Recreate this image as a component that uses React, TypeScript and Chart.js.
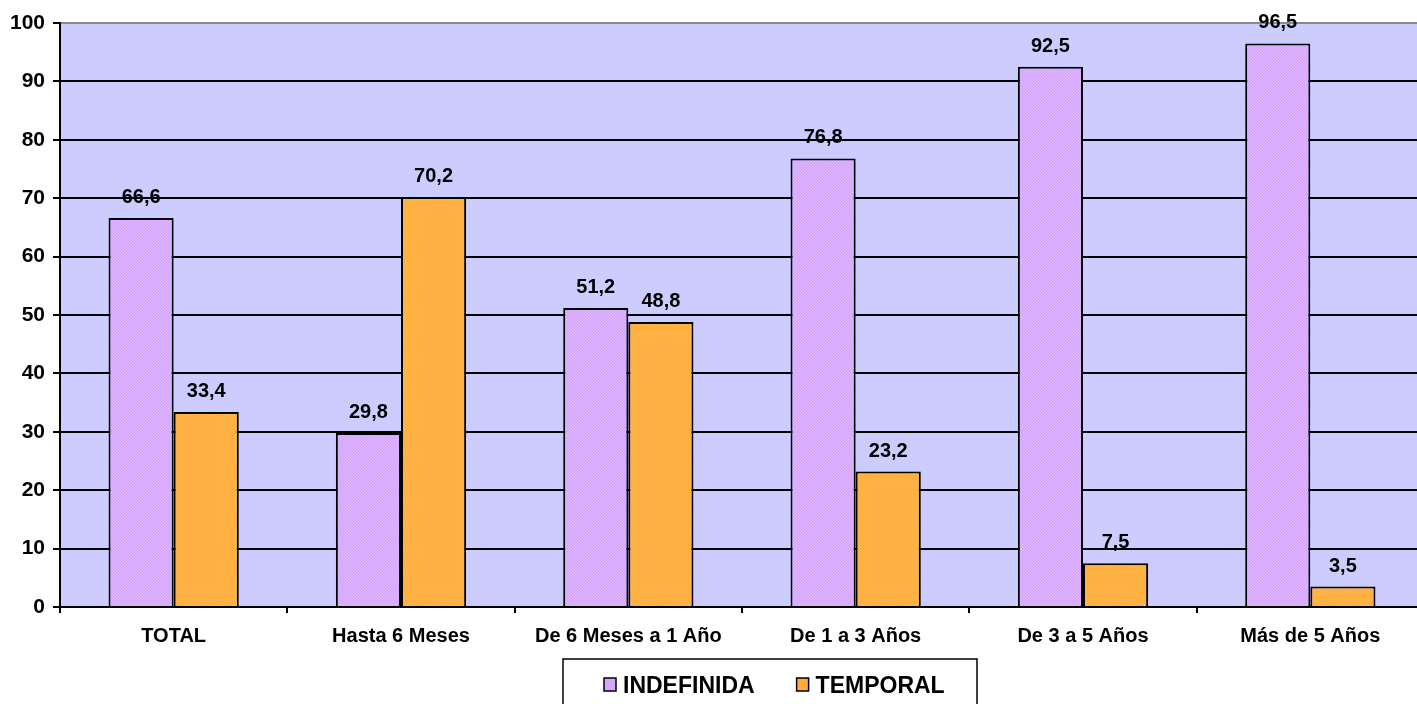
import React, { useEffect, useRef } from "react";
import { Chart, registerables } from "chart.js";

Chart.register(...registerables);

const categories = [
  "TOTAL",
  "Hasta 6 Meses",
  "De 6 Meses a 1 Año",
  "De 1 a 3 Años",
  "De 3 a 5 Años",
  "Más de 5 Años",
];
const indefinida = [66.6, 29.8, 51.2, 76.8, 92.5, 96.5];
const temporal = [33.4, 70.2, 48.8, 23.2, 7.5, 3.5];
const seriesNames = ["INDEFINIDA", "TEMPORAL"];
const yTicks = [0, 10, 20, 30, 40, 50, 60, 70, 80, 90, 100];

const PURPLE = "#D5A6FE";
const PURPLE_DOT = "#E2BCFF";
const ORANGE = "#FFAB36";
const ORANGE_DOT = "#FFBD5C";
const PLOT_BG = "#CCCCFF";
const FONT = "'Liberation Sans', Arial, sans-serif";

function makePattern(base: string, dot: string): CanvasPattern | string {
  const c = document.createElement("canvas");
  c.width = 3;
  c.height = 3;
  const g = c.getContext("2d");
  if (!g) return base;
  g.fillStyle = base;
  g.fillRect(0, 0, 3, 3);
  g.fillStyle = dot;
  g.fillRect(0, 0, 1, 1);
  g.fillRect(2, 1, 1, 1);
  g.fillRect(1, 2, 1, 1);
  const p = g.createPattern(c, "repeat");
  return p || base;
}

const bgPlugin = {
  id: "plotBg",
  beforeDraw(chart: any) {
    const { ctx, chartArea } = chart;
    ctx.save();
    ctx.fillStyle = PLOT_BG;
    ctx.fillRect(chartArea.left, chartArea.top, chartArea.right - chartArea.left, chartArea.bottom - chartArea.top);
    ctx.restore();
  },
};

const labelPlugin = {
  id: "valueLabels",
  afterDatasetsDraw(chart: any) {
    const { ctx } = chart;
    ctx.save();
    ctx.font = `bold 20px ${FONT}`;
    ctx.fillStyle = "#000";
    ctx.textAlign = "center";
    ctx.textBaseline = "alphabetic";
    chart.data.datasets.forEach((ds: any, di: number) => {
      const meta = chart.getDatasetMeta(di);
      meta.data.forEach((bar: any, i: number) => {
        const v = ds.data[i] as number;
        ctx.fillText(v.toFixed(1).replace(".", ","), bar.x, bar.y - 15);
      });
    });
    ctx.restore();
  },
};

const legendPlugin = {
  id: "boxLegend",
  afterDraw(chart: any) {
    const { ctx } = chart;
    ctx.save();
    ctx.strokeStyle = "#000";
    ctx.lineWidth = 1.5;
    ctx.strokeRect(563, 659, 414, 60);
    ctx.font = `bold 23px ${FONT}`;
    ctx.textBaseline = "alphabetic";
    ctx.textAlign = "left";
    const colors = [PURPLE, ORANGE];
    let x = 604;
    seriesNames.forEach((name, i) => {
      ctx.fillStyle = colors[i];
      ctx.fillRect(x, 678, 12, 13);
      ctx.strokeRect(x, 678, 12, 13);
      ctx.fillStyle = "#000";
      ctx.fillText(name, x + 19, 693);
      x += 19 + ctx.measureText(name).width + 42;
    });
    ctx.restore();
  },
};

export default function App() {
  const ref = useRef<HTMLCanvasElement | null>(null);

  useEffect(() => {
    if (!ref.current) return;
    const chart = new Chart(ref.current, {
      type: "bar",
      data: {
        labels: categories,
        datasets: [
          {
            label: seriesNames[0],
            data: indefinida,
            backgroundColor: makePattern(PURPLE, PURPLE_DOT) as any,
            borderColor: "#000",
            borderWidth: 2,
            categoryPercentage: 0.573,
            barPercentage: 1,
          },
          {
            label: seriesNames[1],
            data: temporal,
            backgroundColor: makePattern(ORANGE, ORANGE_DOT) as any,
            borderColor: "#000",
            borderWidth: 2,
            categoryPercentage: 0.573,
            barPercentage: 1,
          },
        ],
      },
      options: {
        animation: false,
        responsive: true,
        maintainAspectRatio: false,
        layout: { padding: { top: 23, left: 0, right: 0, bottom: 0 } },
        plugins: {
          legend: { display: false },
          tooltip: { enabled: false },
        },
        scales: {
          x: {
            afterFit(scale: any) {
              scale.height = 97;
            },
            grid: {
              offset: true,
              drawOnChartArea: false,
              drawTicks: true,
              tickLength: 6,
              color: "#000",
              lineWidth: 2,
            },
            border: { color: "#000", width: 2 },
            ticks: {
              color: "#000",
              padding: 11,
              maxRotation: 0,
              autoSkip: false,
              font: { family: FONT, size: 20, weight: "bold" },
            },
          },
          y: {
            min: 0,
            max: 100,
            afterFit(scale: any) {
              scale.width = 60;
            },
            afterBuildTicks(scale: any) {
              scale.ticks = yTicks.map((v) => ({ value: v }));
            },
            grid: {
              color: (c: any) => (c.tick && c.tick.value === 100 ? "#8a8a8a" : "#000"),
              lineWidth: 2,
              drawTicks: true,
              tickLength: 7,
              tickColor: "#000",
            },
            border: { color: "#000", width: 2 },
            ticks: {
              color: "#000",
              padding: 8,
              font: { family: FONT, size: 21, weight: "bold" },
            },
          },
        },
      },
      plugins: [bgPlugin, labelPlugin, legendPlugin],
    });
    return () => chart.destroy();
  }, []);

  return (
    <div style={{ position: "fixed", left: 0, top: 0, width: 1417, height: 704, overflow: "hidden", background: "#fff" }}>
      <div style={{ position: "relative", width: 1424, height: 704 }}>
        <canvas ref={ref} />
      </div>
    </div>
  );
}
